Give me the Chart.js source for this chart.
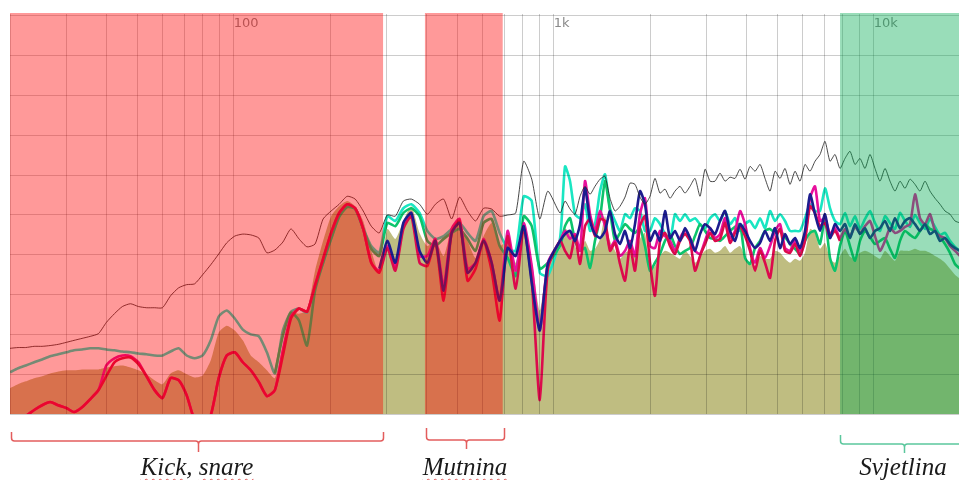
<!DOCTYPE html>
<html>
<head>
<meta charset="utf-8">
<script src="https://cdn.jsdelivr.net/npm/chart.js"></script>
<style>
html,body{margin:0;padding:0;background:#fff;overflow:hidden;width:959px;height:480px;}
#wrap{position:absolute;left:0;top:0;width:972px;height:480px;}
.lbl{position:absolute;top:454px;font-family:"Liberation Serif",serif;font-style:italic;font-size:25px;line-height:25px;color:#1a1a1a;white-space:nowrap;transform:translateX(-50%);}
.sp{text-decoration:underline wavy #e05a5a;text-decoration-thickness:1px;text-underline-offset:3px;}
</style>
</head>
<body>
<div id="wrap"><canvas id="c"></canvas></div>
<script>
// ---------- DATA ----------
// frequencies (Hz): 1/12-octave steps up to ~1 kHz, finer steps above
const freqsLow = [
  20, 21.2, 22.4, 23.8, 25.2, 26.7, 28.3, 30, 31.7, 33.6, 35.6, 37.8,
  40, 42.4, 44.9, 47.6, 50.4, 53.4, 56.6, 59.9, 63.5, 67.3, 71.3, 75.5,
  80, 84.8, 89.8, 95.1, 100.8, 106.8, 113.1, 119.9, 127, 134.5, 142.5, 151,
  160, 169.5, 179.6, 190.3, 201.6, 213.6, 226.3, 239.7, 254, 269.1, 285.1, 302.1,
  320, 339, 359, 381, 403, 427, 453, 480, 508, 538, 570, 604,
  640, 678, 718, 761, 806, 854, 905, 959
];
const freqsHigh = [
  1047, 1085, 1125, 1166, 1209, 1253, 1299, 1346, 1396, 1447, 1500, 1555,
  1612, 1671, 1732, 1795, 1861, 1929, 2000, 2073, 2149, 2228, 2310, 2394,
  2482, 2573, 2667, 2765, 2867, 2972, 3081, 3193, 3310, 3432, 3558, 3688,
  3823, 3963, 4108, 4259, 4415, 4576, 4744, 4918, 5098, 5284, 5478, 5678,
  5886, 6101, 6325, 6557, 6797, 7046, 7304, 7571, 7848, 8136, 8434, 8743,
  9063, 9395, 9739, 10096, 10466, 10849, 11247, 11659, 12086, 12528, 12987, 13463,
  13956, 14467, 14997, 15547, 16116, 16707, 17318, 17953, 18611, 19293
];

// levels (dB)
const blackLow = [
  -83.5, -83.3, -83.3, -83, -83, -82.8, -82.5, -82, -81.5, -81, -80.5, -79.8,
  -77, -74.8, -73, -72.3, -73, -73.3, -73.3, -73.3, -70.3, -68.3, -67.5, -67.3,
  -65, -62.5, -59.8, -57, -55.3, -54.8, -55, -55.8, -59.5, -58.8, -56.8, -53.5,
  -56, -58, -57.3, -51, -49, -47.3, -45.3, -46, -49, -52.8, -54.5, -50,
  -50.3, -46.5, -46, -47.3, -49.8, -47.3, -46, -51, -45.5, -49, -51.5, -48.3,
  -48.5, -50.3, -50, -49.5, -36.5, -41, -51, -44
];
const blackHigh = [
  -49.5, -46.5, -48.5, -49.8, -45.3, -42.8, -44.8, -42.8, -41, -40.3, -45.8, -49,
  -47.8, -45.5, -42, -42.3, -45.5, -47.3, -45.3, -40.8, -44.5, -43.5, -45.8, -44,
  -42.8, -44.5, -42.8, -40.8, -45.3, -38.5, -41.5, -41.5, -39.5, -41.5, -40.5, -40.8,
  -38.5, -41, -37.8, -39, -37.3, -40.8, -44, -39, -40.8, -38.3, -42.3, -39,
  -41.5, -37.3, -39, -36.5, -34.8, -31.5, -36.5, -34.8, -38.3, -35.8, -34, -37.3,
  -35.8, -38.3, -34.8, -38.3, -41.5, -38.3, -41.5, -44, -41.5, -43.3, -41, -42.3,
  -44, -41.5, -44, -45.8, -47.3, -49, -49.8, -51.5, -52, -52.8
];

const tealLow = [
  -89.5, -88.5, -87.8, -87, -86.3, -85.5, -85, -84.5, -84, -83.8, -83.5, -83.5,
  -83.8, -84, -84.3, -84.5, -84.8, -85, -85.3, -85.3, -84.3, -83.5, -85.3, -86,
  -85.3, -81.5, -75.5, -74, -76, -78.8, -80, -80.5, -84.5, -89.8, -79, -74.3,
  -73.5, -74.5, -67.8, -62, -56, -50.3, -47.8, -48.3, -53.3, -57.8, -59.5, -50.3,
  -51.5, -48.3, -47.3, -49.5, -54, -56, -55.3, -53.5, -52, -54.5, -56.5, -50.3,
  -49, -54.5, -58.3, -59, -45.3, -46.5, -64.5, -65.3
];
const tealHigh = [
  -55.8, -37.8, -41.5, -49.8, -50.8, -47.3, -54, -52.3, -44, -39.8, -48.3, -51.5,
  -54, -49.8, -50.8, -48.3, -49, -54, -54, -50.8, -52.3, -54.8, -56.5, -49.8,
  -51.5, -49.8, -51.5, -50.8, -52.3, -53.3, -50.8, -49.8, -51.5, -49, -52.3, -50.8,
  -54, -52.3, -51.5, -53.3, -50.8, -53.3, -49, -51.5, -49.8, -51.5, -54, -54,
  -54, -50.8, -47.3, -49, -49, -43.3, -48.3, -51.5, -52.3, -49.5, -52.8, -50.3,
  -53.5, -51, -49, -52, -54, -50.3, -52, -53.5, -49.5, -51.5, -53, -50,
  -52, -53.5, -51, -53, -55, -54.5, -56.5, -58, -59, -59.5
];

const greenLow = [
  null, null, null, null, null, null, null, null, null, null, null, null,
  null, null, null, null, null, null, null, null, null, null, null, null,
  null, null, null, null, null, null, null, null, null, -89.8, -80.3, -74.5,
  -76.5, -82.8, -69, -62, -56, -50.5, -48, -48.5, -53.5, -58.5, -60.3, -52,
  -52.8, -49.5, -48.3, -50.3, -56.5, -57.8, -56, -54.5, -53.5, -56, -59, -52,
  -51, -57.8, -60.8, -65.3, -50.3, -52.8, -63.5, -62
];
const greenHigh = [
  -57.8, -52.8, -50.8, -56.5, -59, -58.3, -63.3, -56.5, -50.8, -41.5, -49, -56.5,
  -54.5, -52.3, -53.5, -54.5, -53.3, -57.8, -64, -62, -59.8, -56.5, -54.8, -57.8,
  -59.8, -59, -58.3, -55.3, -52.3, -54, -55.8, -56, -56.5, -55.3, -54, -53,
  -52.3, -60.8, -62.3, -58.3, -56.5, -54, -53.5, -54.5, -54, -55.5, -57.3, -58.5,
  -59.8, -56.5, -54.5, -54, -57.3, -50.8, -60.8, -64, -57.8, -54, -57.8, -61.5,
  -56.5, -54, -55.5, -57.3, -56.5, -55.8, -58.5, -60.8, -56.5, -54, -55, -55.8,
  -54, -52.3, -53.5, -54, -55.5, -57.3, -59.5, -62.3, -63.5, -64.5
];

const magentaLow = [
  -101.5, -101.5, -100.5, -99, -97.8, -97, -97.8, -98.5, -99.5, -98.3, -96.3, -94,
  -87.8, -86, -85.3, -85.5, -87, -90.5, -94, -96, -91, -91.5, -95.3, -101.5,
  -102.8, -100.3, -91, -85.3, -84.5, -87, -89, -92, -95.5, -94, -84, -75.5,
  -73.5, -74.3, -67.5, -61, -54.5, -49.5, -47.3, -48.3, -53.5, -62, -64, -57.8,
  -62.8, -52.8, -49.5, -60.3, -60.3, -56, -67.8, -53.5, -51, -63.5, -62, -56,
  -62, -71.5, -54, -64, -52, -62.8, -79, -62
];
const magentaHigh = [
  -56.5, -54, -56, -54.8, -59, -41.5, -49.8, -54, -49, -52.8, -58.3, -56.5,
  -60.3, -59, -56.5, -60.3, -49.8, -45.8, -57.8, -58.3, -54, -55.3, -56.5, -59,
  -55.8, -54, -55.8, -59, -59.8, -56.5, -53.3, -55.8, -54.8, -50.8, -55.8, -54,
  -49, -52.3, -58.3, -62, -58.3, -60.8, -57.8, -54, -52.3, -58.3, -59, -56.5,
  -59, -55.8, -45.8, -42.8, -51.5, -50.8, -54.8, -53.3, -55.8, -53.5, -55.3, -53,
  -54.5, -52.8, -51.5, -55.3, -59, -56.5, -53.3, -54.5, -54, -53, -52.3, -44.8,
  -50.8, -52.3, -49.8, -54, -55.3, -55.8, -57.8, -59, -60.3, -61
];

const crimsonLow = [
  -101.5, -101.5, -100.5, -99, -97.8, -97, -97.8, -98.5, -99.5, -98.3, -96.3, -94,
  -90.5, -87, -86, -85.8, -87.5, -90.5, -94, -96, -91, -91.5, -95.3, -101.5,
  -102.8, -100.3, -91, -85.3, -84.5, -87, -89, -92, -95.5, -94, -85.3, -76,
  -73.5, -74.3, -67.8, -61, -54.5, -49.5, -47.3, -48.3, -53.5, -62, -64.5, -58.3,
  -64, -53.5, -50.3, -62, -62.8, -56.5, -71.5, -54.5, -51.5, -66.5, -63.5, -56.5,
  -64, -76.5, -55.3, -68.5, -53.5, -66.5, -96.5, -63.5
];
const crimsonHigh = [
  -56.5, -59, -60.8, -55.3, -62.3, -52.8, -51, -55.3, -51, -51.5, -59, -57,
  -62.3, -66.5, -57.8, -64, -52.8, -50.3, -62, -70.3, -56.5, -54.5, -57.8, -59.8,
  -56.5, -54.8, -56.5, -64, -60.3, -57.3, -54.5, -56.5, -56, -52, -57, -54.5,
  -52.8, -55.3, -59, -64, -59, -62, -65.8, -56.5, -53.5, -59, -59.5, -57.3,
  -60.3, -56.5, -47.8, -49.5, -52.8, -52, -55.5, -54, -56.5, null, null, null,
  null, null, null, null, null, null, null, null, null, null, null, null,
  null, null, null, null, null, null, null, null, null, null
];

const navyLow = [
  null, null, null, null, null, null, null, null, null, null, null, null,
  null, null, null, null, null, null, null, null, null, null, null, null,
  null, null, null, null, null, null, null, null, null, null, null, null,
  null, null, null, null, null, null, null, null, null, null, -63.5, -56.5,
  -62, -52, -49.5, -59, -62, -56.5, -69, -54.5, -52, -64.5, -62, -56.5,
  -62, -71.5, -58.3, -60.3, -52.8, -67, -79, -62.3
];
const navyHigh = [
  -56.5, -54.8, -54, -56.5, -52.3, -43.3, -51.5, -54.8, -55.8, -54, -49, -54.8,
  -57.3, -54, -58.3, -52.3, -44, -47.3, -56.5, -54, -56.5, -49, -55.8, -54,
  -56.5, -53.3, -55.8, -59, -54.8, -52.3, -53.3, -54.8, -51.5, -49, -54, -56.5,
  -52.3, -54, -56.5, -58.3, -57, -54, -56.5, -53.3, -58.3, -54.8, -57.3, -55.8,
  -58.3, -54, -44.8, -49.8, -54, -49.8, -55.8, -52.3, -54, -52.3, -55.8, -52.3,
  -54.8, -53.3, -55.8, -54, -53.3, -51.5, -54, -50.8, -53.3, -51.5, -50.8, -52.3,
  -54, -52.3, -54.8, -54, -56.5, -55.8, -57.3, -58.3, -59, -59.5
];

const fillLow = [
  -93.5, -92.5, -91.8, -91, -90.5, -89.8, -89.3, -89, -89, -88.8, -88.8, -88.8,
  -88.3, -88, -87.8, -88.3, -89, -90, -91.5, -92.5, -89.8, -89, -90, -90.8,
  -90.3, -86.5, -79.5, -77.8, -79, -81.5, -85.3, -87, -89, -91, -82.8, -74.5,
  -74.8, -74, -64, -56.5, -50.3, -47.8, -46.5, -47.8, -51.5, -59, -64.5, -53.5,
  -56, -51.5, -47.8, -54.5, -57.8, -56.5, -60.3, -53.5, -52.5, -56.5, -60.8, -55.3,
  -52, -57.8, -56.5, -62, -54, -61.5, -74, -62
];
const fillHigh = [
  -58.5, -53.5, -54.5, -57.8, -60.3, -56.5, -59, -58.5, -56, -50.3, -56.5, -59,
  -61, -59.5, -59, -60.3, -56, -54.5, -64, -62.8, -60.3, -59, -59.5, -60.3,
  -61, -59, -60.3, -62, -60.5, -59, -58.5, -59.5, -59, -57.8, -59.5, -58.5,
  -57.8, -60.5, -62, -62.8, -60.3, -61, -61, -59, -59.5, -61, -62, -61,
  -61.5, -59.5, -53.5, -54.5, -58.5, -57, -61, -62, -60.3, -58.5, -60.5, -61,
  -59.5, -59, -59.5, -60.3, -61, -59, -60.3, -61.5, -59, -59, -59, -58.5,
  -59, -59, -59.5, -60.3, -61, -62, -63.5, -65, -66, -66.5
];

const gridFreqs = [20, 30, 40, 50, 60, 70, 80, 90, 100, 200, 300, 400, 500, 600, 700, 800, 900,
  1000, 2000, 3000, 4000, 5000, 6000, 7000, 8000, 9000, 10000, 20000];
const gridLevels = [-100, -90, -80, -70, -60, -50, -40, -30, -20, -10, 0];
const tickFreqs = [100, 1000, 10000];
const tickLabels = ['100', '1k', '10k'];

const bandNames = ['Kick, snare', 'Mutnina', 'Svjetlina'];
const bandFrom = [20, 396, 7850];
const bandTo = [293, 693, 20000];

// ---------- STYLE ----------
const bandFill = ['rgba(255,0,0,0.40)', 'rgba(255,0,0,0.40)', 'rgba(0,170,80,0.40)'];
const braceColor = ['#e35d5d', '#e35d5d', '#5bc79d'];
const braceFrom = [20.1, 400, 7850];
const braceTo = [293, 700, 19400];
const braceY = [[432, 441, 452], [428, 440, 449], [435, 444, 453]];
const braceLabelX = [197, 465, 903];
const spellMarked = [true, true, false];

const pts = (lo, hi) => freqsLow.map((f, i) => ({x: f, y: lo[i]}))
  .concat(freqsHigh.map((f, i) => ({x: f, y: hi[i]})));
const line = (label, lo, hi, color, width) => ({
  label, data: pts(lo, hi), borderColor: color, borderWidth: width,
  pointRadius: 0, fill: false, tension: 0.2, spanGaps: false
});

const overlay = {
  id: 'overlay',
  afterDraw(chart) {
    const {ctx, chartArea: a, scales: {x}} = chart;
    ctx.save();
    for (let i = 0; i < bandFrom.length; i++) {
      const x1 = Math.max(a.left, x.getPixelForValue(bandFrom[i]));
      const x2 = Math.min(a.right, x.getPixelForValue(bandTo[i]));
      ctx.fillStyle = bandFill[i];
      ctx.fillRect(x1, a.top - 1, x2 - x1, a.bottom - a.top + 1);
    }
    for (let i = 0; i < braceFrom.length; i++) {
      const x1 = Math.round(x.getPixelForValue(braceFrom[i])) + 0.5;
      const x2 = Math.round(x.getPixelForValue(braceTo[i])) + 0.5;
      const [yT, yM, yP] = braceY[i];
      const cx = Math.round((x1 + x2) / 2) + 0.5, r = 3;
      ctx.strokeStyle = braceColor[i];
      ctx.lineWidth = 1.5;
      ctx.beginPath();
      ctx.moveTo(x1, yT);
      ctx.lineTo(x1, yM - r);
      ctx.quadraticCurveTo(x1, yM, x1 + r, yM);
      ctx.lineTo(cx - r, yM);
      ctx.quadraticCurveTo(cx, yM, cx, yM + r);
      ctx.lineTo(cx, yP);
      ctx.moveTo(x2, yT);
      ctx.lineTo(x2, yM - r);
      ctx.quadraticCurveTo(x2, yM, x2 - r, yM);
      ctx.lineTo(cx + r, yM);
      ctx.quadraticCurveTo(cx, yM, cx, yM + r);
      ctx.stroke();
    }
    ctx.restore();
  }
};

new Chart(document.getElementById('c'), {
  type: 'line',
  data: {
    datasets: [
      line('black', blackLow, blackHigh, 'rgba(40,40,40,0.85)', 1),
      line('navy', navyLow, navyHigh, '#1c1c8e', 2.6),
      line('crimson', crimsonLow, crimsonHigh, '#dc0a4c', 2.6),
      line('magenta', magentaLow, magentaHigh, '#e8109c', 2.6),
      line('green', greenLow, greenHigh, '#0cc46c', 2.6),
      line('teal', tealLow, tealHigh, '#19e6c2', 2.6),
      {label: 'fill', data: pts(fillLow, fillHigh), borderWidth: 0, borderColor: 'rgba(0,0,0,0)',
       backgroundColor: 'rgb(191,189,129)', fill: 'start', pointRadius: 0, tension: 0.2}
    ]
  },
  options: {
    responsive: true,
    maintainAspectRatio: false,
    animation: false,
    events: [],
    layout: {padding: {left: 10, right: 2, top: 10, bottom: 66}},
    plugins: {legend: {display: false}, tooltip: {enabled: false}},
    scales: {
      x: {
        type: 'logarithmic', position: 'top', min: 20, max: 20000,
        afterBuildTicks: ax => { ax.ticks = gridFreqs.map(v => ({value: v})); },
        grid: {color: 'rgba(0,0,0,0.20)', lineWidth: 1, drawTicks: false, z: 1},
        border: {display: false},
        ticks: {
          mirror: true, align: 'start', padding: 2, autoSkip: false,
          minRotation: 0, maxRotation: 0, color: '#8a8a8a',
          font: {family: 'DejaVu Sans', size: 13},
          callback: v => { const k = tickFreqs.indexOf(v); return k >= 0 ? tickLabels[k] : ''; }
        }
      },
      y: {
        min: -100, max: 0.5,
        afterBuildTicks: ax => { ax.ticks = gridLevels.map(v => ({value: v})); },
        grid: {color: 'rgba(0,0,0,0.20)', lineWidth: 1, drawTicks: false, z: 1},
        border: {display: false},
        ticks: {display: false}
      }
    }
  },
  plugins: [overlay]
});

// labels under the braces (real text)
bandNames.forEach((name, i) => {
  const d = document.createElement('div');
  d.className = 'lbl';
  d.style.left = braceLabelX[i] + 'px';
  if (spellMarked[i]) {
    name.split(' ').forEach((w, j) => {
      if (j) d.appendChild(document.createTextNode(' '));
      const word = w.replace(/,$/, '');
      const s = document.createElement('span');
      s.className = 'sp';
      s.textContent = word;
      d.appendChild(s);
      if (word !== w) d.appendChild(document.createTextNode(','));
    });
  } else {
    d.textContent = name;
  }
  document.body.appendChild(d);
});
</script>
</body>
</html>
